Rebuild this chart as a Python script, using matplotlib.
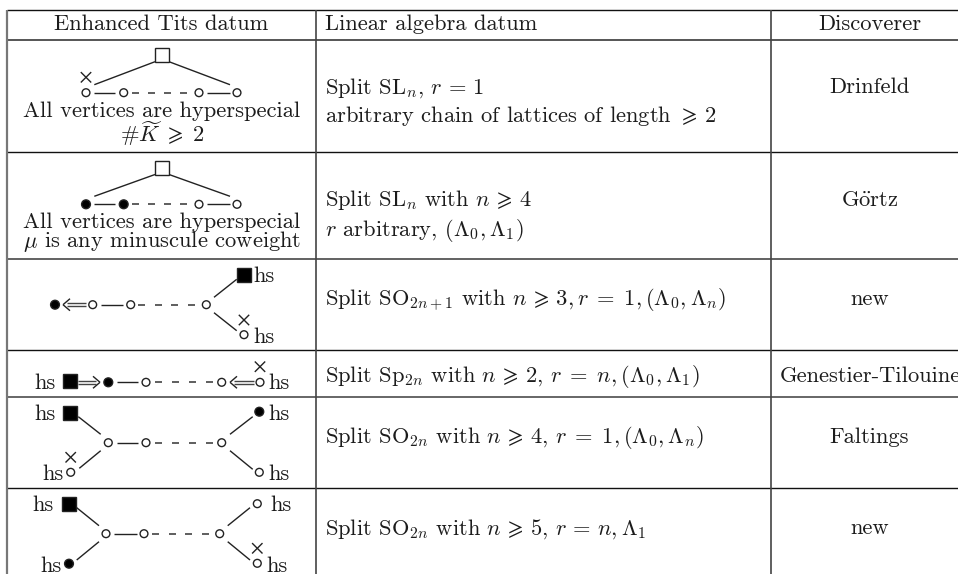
import matplotlib
matplotlib.use("Agg")
import matplotlib.pyplot as plt
from matplotlib.patches import Rectangle, Circle

plt.rcParams['font.family'] = ['cmr10', 'DejaVu Sans']
plt.rcParams['mathtext.fontset'] = 'cm'
plt.rcParams['axes.unicode_minus'] = False

FS = 16.2
INK = '#1c1c1c'

headers = ["Enhanced Tits datum", "Linear algebra datum", "Discoverer"]
tits_captions = [
    ["All vertices are hyperspecial", r"$\#\widetilde{K}\;\geqslant\;2$"],
    ["All vertices are hyperspecial", r"$\mu$ is any minuscule coweight"],
]
linear_data = [
    [r"Split SL$_n$, $r\,=\,1$", r"arbitrary chain of lattices of length $\geqslant\,2$"],
    [r"Split SL$_n$ with $n\,\geqslant\,4$", r"$r$ arbitrary, $(\Lambda_0,\Lambda_1)$"],
    [r"Split SO$_{2n+1}$ with $n\,\geqslant\,3,r\;=\;1,(\Lambda_0,\Lambda_n)$"],
    [r"Split Sp$_{2n}$ with $n\,\geqslant\,2$, $r\;=\;n,(\Lambda_0,\Lambda_1)$"],
    [r"Split SO$_{2n}$ with $n\,\geqslant\,4$, $r\;=\;1,(\Lambda_0,\Lambda_n)$"],
    [r"Split SO$_{2n}$ with $n\,\geqslant\,5$, $r\,=\,n,\Lambda_1$"],
]
discoverers = ["Drinfeld", r"G$\ddot{\mathrm{o}}$rtz", "new", "Genestier-Tilouine", "Faltings", "new"]
hs_label = "hs"

W, H = 958, 574
fig = plt.figure(figsize=(W / 100, H / 100), dpi=100)
ax = fig.add_axes([0, 0, 1, 1])
ax.set_xlim(0, W)
ax.set_ylim(H, 0)
ax.axis('off')


def txt(x, y, s, ha='left', size=FS):
    return ax.text(x, y, s, ha=ha, va='baseline', fontsize=size, color=INK, clip_on=True)


def seg(p, q, **kw):
    kw.setdefault('lw', 1.0)
    kw.setdefault('color', '#222222')
    ax.plot([p[0], q[0]], [p[1], q[1]], solid_capstyle='butt', **kw)


def node(x, y, filled=False):
    ax.add_patch(Circle((x, y), 3.9 if not filled else 4.4, fc='black' if filled else 'white',
                        ec='#222222', lw=1.0, zorder=3))


def square(x0, y0, filled=False, s=14):
    ax.add_patch(Rectangle((x0, y0), s, s, fc='black' if filled else 'white',
                           ec='#222222', lw=1.0, zorder=3))


def cross(x, y, r=5.2):
    seg((x - r, y - r), (x + r, y + r))
    seg((x - r, y + r), (x + r, y - r))


def dashes(x0, x1, y, n=4, d=7.0):
    step = (x1 - x0 - d) / (n - 1)
    for i in range(n):
        seg((x0 + i * step, y), (x0 + i * step + d, y), lw=1.1, color='#333333')


def double_arrow(tail, tip, y):
    sgn = 1 if tip > tail else -1
    stem = tip - sgn * 4
    seg((tail, y - 1.7), (stem, y - 1.7), color='#444444')
    seg((tail, y + 1.7), (stem, y + 1.7), color='#444444')
    seg((tip - sgn * 7, y - 6), (tip, y), color='#222222')
    seg((tip - sgn * 7, y + 6), (tip, y), color='#222222')


# ---- table rules ----
h_rules = [(9.5, 1.0, '#111111'), (39.5, 1.4, '#555555'), (152.4, 1.0, '#111111'),
           (259, 1.3, '#555555'), (350.3, 1.0, '#111111'), (397, 1.4, '#666666'),
           (488.3, 1.0, '#111111')]
for y, lw, c in h_rules:
    seg((7, y), (W, y), lw=lw, color=c)
v_rules = [(7.2, 1.6, '#777777'), (316.3, 1.2, '#444444'), (770.8, 1.2, '#444444')]
for x, lw, c in v_rules:
    seg((x, 9.5), (x, 574), lw=lw, color=c)

# ---- header ----
txt(161.5, 30, headers[0], ha='center')
txt(325, 30, headers[1])
txt(869.5, 30, headers[2], ha='center')

# ---- column 2 ----
base_ys = [[93.3, 122.3], [206, 236], [305], [382.3], [443.3], [535]]
for lines, ys in zip(linear_data, base_ys):
    for s, y in zip(lines, ys):
        txt(325, y, s)

# ---- column 3 ----
disc_ys = [92.7, 206, 305, 381.7, 443.3, 534]
for i, (name, y) in enumerate(zip(discoverers, disc_ys)):
    if i == 3:
        txt(779.3, y, name)
    else:
        txt(869.5, y, name, ha='center')

# ---- diagrams 1 and 2 ----
for top, cy, fills in [(47.7, 92.7, (False, False)), (160.5, 204.3, (True, True))]:
    square(155, top, False)
    seg((94.3, cy - 8), (155, top + 14))
    seg((169, top + 14), (230, cy - 8))
    for x, f in zip((86, 123.7, 199, 237), fills + (False, False)):
        node(x, cy, f)
    seg((94.5, cy), (115, cy))
    dashes(132, 187, cy)
    seg((207, cy), (230, cy))
cross(86, 77.3)
txt(161.7, 116.7, tits_captions[0][0], ha='center')
txt(161.7, 141.7, tits_captions[0][1], ha='center')
txt(161.7, 228.3, tits_captions[1][0], ha='center')
txt(161.7, 247.3, tits_captions[1][1], ha='center')

# ---- diagram 3 ----
cy = 304.7
node(55, cy, True)
double_arrow(86, 63, cy)
node(92.7, cy)
seg((100.7, cy), (122.7, cy))
node(130.7, cy)
dashes(138, 195, cy)
node(206.3, cy)
square(237.3, 267.7, True)
seg((214, 297.3), (236.7, 279.3))
seg((214, 312.7), (236.7, 330.7))
node(244, 334.7)
cross(244, 320)
txt(253, 281.7, hs_label)
txt(253, 342.7, hs_label)

# ---- diagram 4 ----
cy = 382.3
txt(34.3, 389, hs_label)
square(63.3, 374.3, True)
double_arrow(78, 100, cy)
node(108.3, cy, True)
seg((116.7, cy), (138.3, cy))
node(146, cy)
dashes(155, 213, cy)
node(221.7, cy)
double_arrow(254, 230, cy)
node(260, cy)
cross(260, 366.7)
txt(268, 389, hs_label)

# ---- diagram 5 ----
cy = 442.7
txt(34.3, 420, hs_label)
square(63.3, 405.7, True)
seg((78.3, 416.7), (100.7, 434.3))
seg((100.7, 450.7), (79.3, 468.3))
node(70.7, 472.3)
cross(70.7, 457.3)
txt(42.3, 480, hs_label)
node(108.3, cy)
seg((116.7, cy), (138.3, cy))
node(146, cy)
dashes(155, 213, cy)
node(221.7, cy)
seg((230, 434.3), (252.7, 416.7))
seg((230, 450.7), (252.7, 469.3))
node(259.3, 411.7, True)
node(259.3, 472.3)
txt(268.3, 420, hs_label)
txt(268.3, 480, hs_label)

# ---- diagram 6 ----
cy = 533.7
txt(32.3, 510.7, hs_label)
square(61.7, 496.8, True)
seg((76.7, 507.7), (99, 525.7))
seg((99, 541.7), (76.7, 560))
node(69, 563.7, True)
txt(40, 571.7, hs_label)
node(106, cy)
seg((114.3, cy), (136.7, cy))
node(144, cy)
dashes(152, 209, cy)
node(219.7, cy)
seg((227.7, 525.7), (250, 507.7))
seg((227.7, 541.7), (250, 560))
node(257.3, 503.7)
txt(270, 510.7, hs_label)
node(257.3, 563.3)
cross(257.3, 548.3)
txt(266.7, 571.7, hs_label)

fig.savefig('out.png', dpi=100)
